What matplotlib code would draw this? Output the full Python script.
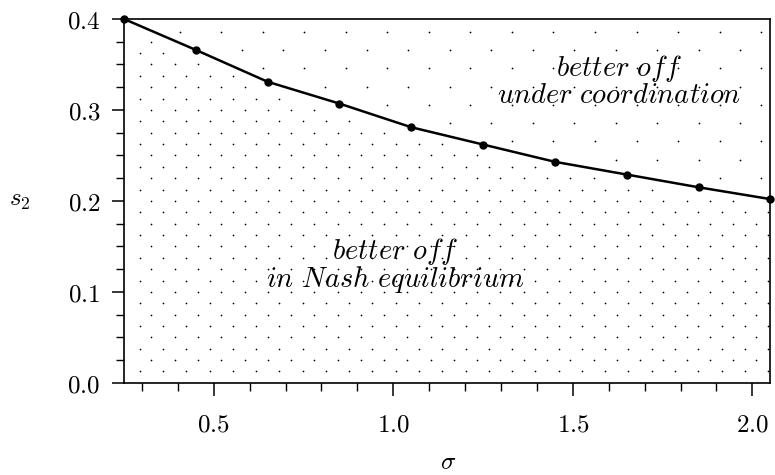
import numpy as np
import matplotlib
matplotlib.use("Agg")
import matplotlib.pyplot as plt
from matplotlib.ticker import MultipleLocator, FuncFormatter

plt.rcParams['mathtext.fontset'] = 'cm'

# threshold s2 as function of sigma
sigma = [0.25, 0.45, 0.65, 0.85, 1.05, 1.25, 1.45, 1.65, 1.85, 2.05]
s2 = [0.400, 0.366, 0.331, 0.307, 0.281, 0.262, 0.243, 0.229, 0.215, 0.202]

label_upper = r'$\mathit{better\ off}$' + '\n' + r'$\mathit{under\ coordination}$'
label_lower = r'$\mathit{better\ off}$' + '\n' + r'$\mathit{in\ Nash\ equilibrium}$'

fig = plt.figure(figsize=(7.75, 4.75), dpi=100)
ax = fig.add_axes([0.160, 0.194, 0.834, 0.766])

x0, x1 = 0.25, 2.05
y0, y1 = 0.0, 0.4

# dotted texture: dense below the curve, sparse above
def curve(x):
    return np.interp(x, sigma, s2)

# lower region
xs, ys = [], []
step_x = 0.0648
for k, yy in enumerate(np.arange(0.0125, 0.4, 0.0125)):
    start = 0.294 if k % 2 == 0 else 0.294 + step_x / 2
    for xx in np.arange(start, x1, step_x):
        if yy < curve(xx) - 0.008:
            xs.append(xx)
            ys.append(yy)
ax.scatter(xs, ys, s=1.5, c='k', linewidths=0, zorder=1)

# upper region
xs, ys = [], []
step_x = 0.1157
for k, yy in enumerate(np.arange(0.386, 0.18, -0.0201)):
    start = 0.289 if k % 2 == 0 else 0.289 + step_x / 2
    for xx in np.arange(start, x1, step_x):
        if yy > curve(xx) + 0.01:
            xs.append(xx)
            ys.append(yy)
ax.scatter(xs, ys, s=1.6, c='k', linewidths=0, zorder=1)

ax.plot(sigma, s2, color='k', lw=1.8, marker='o', markersize=5, zorder=3,
        clip_on=False)

ax.set_xlim(x0, x1)
ax.set_ylim(y0, y1)

ax.xaxis.set_major_locator(MultipleLocator(0.5))
ax.xaxis.set_minor_locator(MultipleLocator(0.1))
ax.yaxis.set_major_locator(MultipleLocator(0.1))
ax.yaxis.set_minor_locator(MultipleLocator(0.025))
fmt = FuncFormatter(lambda v, p: r'$%.1f$' % v)
ax.xaxis.set_major_formatter(fmt)
ax.yaxis.set_major_formatter(fmt)

ax.tick_params(which='major', direction='out', length=9, width=1.1,
               labelsize=18, pad=8)
ax.tick_params(which='minor', direction='out', length=5.5, width=1.0)
ax.tick_params(axis='x', which='major', pad=12)
for sp in ax.spines.values():
    sp.set_linewidth(1.2)

ax.text(1.628, 0.332, label_upper, ha='center', va='center', fontsize=20.5,
        linespacing=0.85, zorder=4)
ax.text(1.005, 0.129, label_lower, ha='center', va='center', fontsize=20.5,
        linespacing=0.85, zorder=4)

fig.text(20 / 775, 1 - 200 / 475, r'$s_2$', ha='center', va='center', fontsize=18)
fig.text(448 / 775, 1 - 462 / 475, r'$\sigma$', ha='center', va='center', fontsize=18)

fig.savefig('out.png', dpi=100)
